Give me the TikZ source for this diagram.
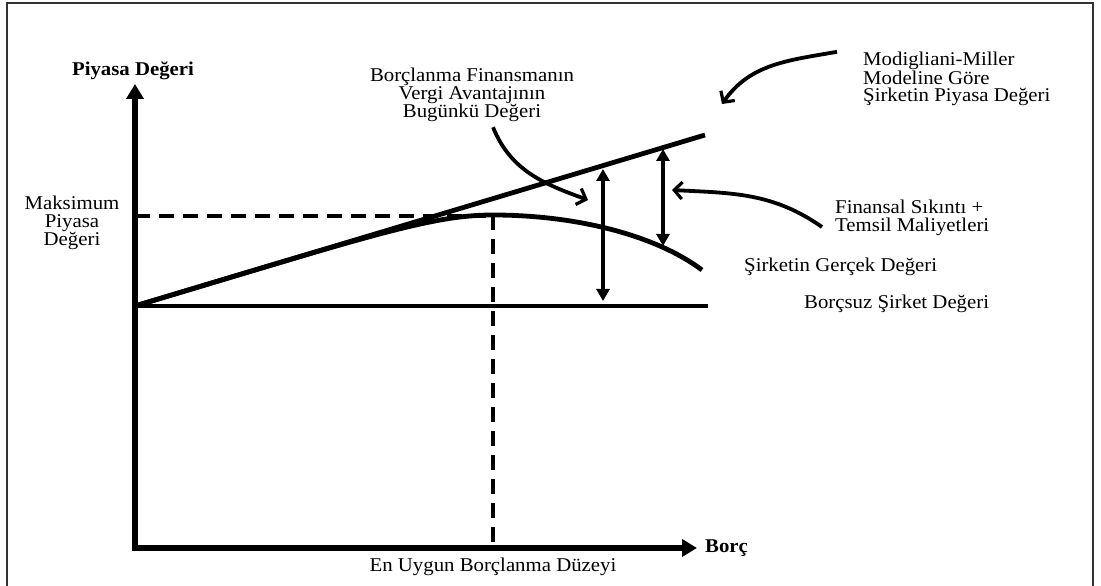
\documentclass[tikz,border=0pt]{standalone}
\usepackage{fontspec}
\setmainfont[FakeStretch=1.067]{Liberation Serif}
\usetikzlibrary{arrows.meta}

\begin{document}
\begin{tikzpicture}[
		x=1pt, y=1pt,
		lbl/.style = {inner sep=0pt, font=\fontsize{19.5}{17.5}\selectfont},
		axis/.style = {line width=5.5pt, line join=miter, {Triangle[length=15pt, width=17pt]}-{Triangle[length=15pt, width=17pt]}},
		gap/.style = {line width=3.2pt, {Triangle[length=12pt, width=13pt]}-{Triangle[length=12pt, width=13pt]}},
		pointer/.style = {line width=3.8pt, -{Straight Barb[length=8pt, width=17pt, line width=3.2pt]}},
		guide/.style = {line width=3.6pt, dash pattern=on 15pt off 9pt}]
	\useasboundingbox (0,0) rectangle (1101,586);
	\draw[line width=2pt, black!80] (7,-20) rectangle (1093,583);

	\coordinate (O) at (135,280);
	\coordinate (peak) at (493,371);

	\node[lbl, font=\fontsize{19.5}{17.5}\selectfont\bfseries] (ylabel) at (133,515) {Piyasa Değeri};
	\node[lbl, font=\fontsize{19.5}{17.5}\selectfont\bfseries, anchor=west] (xlabel) at (705,38) {Borç};
	\node[lbl, align=center] (maxval) at (72,363) {Maksimum\\Piyasa\\Değeri};
	\node[lbl] (optimum) at (493,19) {En Uygun Borçlanma Düzeyi};
	\node[lbl, align=center] (tax) at (472,491) {Borçlanma Finansmanın\\Vergi Avantajının\\Bugünkü Değeri};
	\node[lbl, align=left, anchor=west] (mm) at (863,507) {Modigliani-Miller\\Modeline Göre\\Şirketin Piyasa Değeri};
	\node[lbl, align=left, anchor=west] (distress) at (835,368) {Finansal Sıkıntı +\\Temsil Maliyetleri};
	\node[lbl, anchor=west] (actual) at (744,319) {Şirketin Gerçek Değeri};
	\node[lbl, anchor=west] (unlev) at (804,282) {Borçsuz Şirket Değeri};

	\draw[axis] (135,502) -- (135,38) -- (697,38);

	\draw[line width=3.6pt] (O) -- (708,280);
	\draw[line width=4.8pt] (O) -- (705,451);
	\draw[line width=4.8pt] (O) .. controls (374.5,351.8) and (433,371) .. (peak)
		.. controls (573,371) and (654,352) .. (702,316);

	\draw[guide] (135,370) -- (493,370);
	\draw[guide] (peak) -- (493,40);

	\draw[gap] (603,417) -- (603,285);
	\draw[gap] (663,437) -- (663,340);

	\coordinate (taxtip) at (588,386);
	\coordinate (mmtip) at (722,482);
	\coordinate (distresstip) at (672,396);
	\draw[pointer] ([xshift=21pt, yshift=-5pt]tax.south) to[out=-68, in=160] (taxtip);
	\draw[pointer] ([xshift=-26pt, yshift=0pt]mm.north west) to[out=190, in=55] (mmtip);
	\draw[pointer] ([xshift=-13pt, yshift=-9pt]distress.west) to[out=145, in=-3] (distresstip);
\end{tikzpicture}
\end{document}
